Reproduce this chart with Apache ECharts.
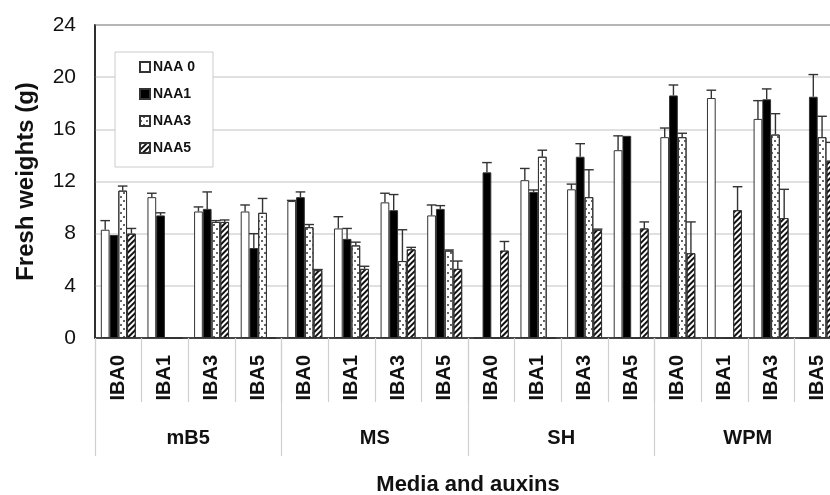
<!DOCTYPE html>
<html>
<head>
<meta charset="utf-8">
<script src="https://cdn.jsdelivr.net/npm/echarts@6/dist/echarts.min.js"></script>
<style>
html,body{margin:0;padding:0;background:#fff;}
#chart{width:830px;height:495px;}
</style>
</head>
<body>
<div id="chart"></div>
<script>
// ---- data ----
const categories = ['IBA0','IBA1','IBA3','IBA5','IBA0','IBA1','IBA3','IBA5','IBA0','IBA1','IBA3','IBA5','IBA0','IBA1','IBA3','IBA5'];
const groups = ['mB5','MS','SH','WPM'];
const seriesNames = ['NAA 0','NAA1','NAA3','NAA5'];
const yTicks = [0,4,8,12,16,20,24];

const naa0    = [8.3, 10.8, 9.7, 9.7, 10.5, 8.4, 10.4, 9.4, 0, 12.1, 11.4, 14.4, 15.4, 18.4, 16.8, 0];
const naa0Err = [0.7, 0.3, 0.35, 0.5, 0.05, 0.9, 0.7, 0.8, 0, 0.9, 0.4, 1.1, 0.7, 0.6, 1.4, 0];
const naa1    = [7.9, 9.4, 9.9, 6.9, 10.8, 7.6, 9.8, 9.9, 12.7, 11.2, 13.9, 15.5, 18.6, 0, 18.3, 18.5];
const naa1Err = [0, 0.2, 1.3, 1.1, 0.4, 0.8, 1.2, 0.25, 0.75, 0.15, 1.0, 0, 0.8, 0, 0.8, 1.7];
const naa3    = [11.3, 0, 8.9, 9.6, 8.5, 7.1, 5.9, 6.7, 0, 13.9, 10.8, 0, 15.4, 0, 15.6, 15.4];
const naa3Err = [0.35, 0, 0.1, 1.1, 0.2, 0.25, 2.4, 0.05, 0, 0.5, 2.1, 0, 0.3, 0, 1.6, 1.6];
const naa5    = [8.0, 0, 8.9, 0, 5.2, 5.3, 6.8, 5.3, 6.7, 0, 8.3, 8.4, 6.5, 9.8, 9.2, 13.6];
const naa5Err = [0.4, 0, 0.15, 0, 0.05, 0.2, 0.15, 0.6, 0.7, 0, 0.05, 0.5, 2.4, 1.8, 2.2, 1.4];

const values = [naa0, naa1, naa3, naa5];
const errors = [naa0Err, naa1Err, naa3Err, naa5Err];

// ---- styles ----
const FONT = "'Liberation Sans', Arial, sans-serif";
const BAR_GAP_RATIO = 0.25; // barCategoryGap
const N = 4;

const itemStyles = [
  { color: '#ffffff', borderColor: '#333', borderWidth: 1 },
  { color: '#000000', borderColor: '#333', borderWidth: 1 },
  { color: '#ffffff', borderColor: '#333', borderWidth: 1,
    decal: { symbol: 'rect', symbolSize: 1, color: '#666',
             dashArrayX: [[1.5, 3.5], [0, 2.5, 1.5, 1]], dashArrayY: [1.5, 1.5], rotation: 0 } },
  { color: '#ffffff', borderColor: '#333', borderWidth: 1,
    decal: { symbol: 'rect', symbolSize: 1, color: '#111',
             dashArrayX: [1, 0], dashArrayY: [2, 2], rotation: -Math.PI / 4 } }
];

function makeErrRender(idx) {
  return function (params, api) {
    const x = api.value(0);
    const lo = api.coord([x, api.value(1)]);
    const hi = api.coord([x, api.value(2)]);
    const band = api.size([1, 0])[0];
    const bw = band * (1 - BAR_GAP_RATIO) / N;
    const cx = lo[0] - band * (1 - BAR_GAP_RATIO) / 2 + (idx + 0.5) * bw;
    const cap = bw * 0.55;
    const st = { stroke: '#333', lineWidth: 1.4 };
    return {
      type: 'group',
      children: [
        { type: 'line', shape: { x1: cx, y1: lo[1], x2: cx, y2: hi[1] }, style: st },
        { type: 'line', shape: { x1: cx - cap, y1: hi[1], x2: cx + cap, y2: hi[1] }, style: st }
      ]
    };
  };
}

const series = [];
values.forEach((v, i) => {
  series.push({
    name: seriesNames[i],
    type: 'bar',
    data: v,
    barGap: '0%',
    barCategoryGap: (BAR_GAP_RATIO * 100) + '%',
    itemStyle: itemStyles[i],
    emphasis: { disabled: true },
    z: 2
  });
});
values.forEach((v, i) => {
  const d = [];
  v.forEach((val, k) => {
    if (val > 0 && errors[i][k] > 0) d.push([k, val, val + errors[i][k]]);
  });
  series.push({
    name: 'err' + i,
    type: 'custom',
    renderItem: makeErrRender(i),
    data: d,
    encode: { x: 0, y: [1, 2] },
    z: 3,
    silent: true
  });
});

const chart = echarts.init(document.getElementById('chart'), null, { renderer: 'canvas' });
chart.setOption({
  animation: false,
  backgroundColor: '#ffffff',
  textStyle: { fontFamily: FONT },
  grid: { left: 95, top: 25, width: 746, height: 313, show: true, borderColor: '#222', borderWidth: 1.5,
          containLabel: false, outerBoundsMode: 'none' },
  legend: {
    data: seriesNames,
    orient: 'vertical',
    left: 115, top: 52,
    padding: [8, 18, 12, 24],
    itemWidth: 10, itemHeight: 10, itemGap: 13,
    icon: 'rect',
    borderColor: '#cccccc', borderWidth: 1,
    backgroundColor: '#ffffff',
    textStyle: { fontFamily: FONT, fontWeight: 'bold', fontSize: 14, color: '#111', padding: [0, 0, 0, -2] }
  },
  xAxis: [
    {
      type: 'category',
      data: categories,
      position: 'bottom',
      boundaryGap: true,
      axisLine: { show: true, lineStyle: { color: '#222', width: 1.5 } },
      axisTick: { show: true, interval: 0, length: 64, lineStyle: { color: '#cfcfcf', width: 1.2 } },
      axisLabel: { interval: 0, rotate: 90, margin: 17, fontFamily: FONT, fontWeight: 'bold', fontSize: 20, color: '#111' },
      splitLine: { show: false }
    },
    {
      type: 'category',
      data: groups,
      position: 'bottom',
      offset: 0,
      boundaryGap: true,
      axisLine: { show: false },
      axisTick: { show: true, interval: 0, length: 118, lineStyle: { color: '#cfcfcf', width: 1.2 } },
      axisLabel: { interval: 0, margin: 90, fontFamily: FONT, fontWeight: 'bold', fontSize: 20, color: '#111' },
      name: 'Media and auxins',
      nameLocation: 'middle',
      nameGap: 136,
      nameTextStyle: { fontFamily: FONT, fontWeight: 'bold', fontSize: 22, color: '#111', verticalAlign: 'top' },
      splitLine: { show: false }
    }
  ],
  yAxis: {
    type: 'value',
    min: 0, max: 24, interval: 4,
    axisLine: { show: true, lineStyle: { color: '#222', width: 1.5 } },
    axisTick: { show: false },
    axisLabel: { margin: 19, fontFamily: FONT, fontSize: 21, color: '#111',
                 formatter: v => (yTicks.indexOf(v) >= 0 ? String(v) : '') },
    splitLine: { show: true, lineStyle: { color: '#d6d6d6', width: 1.5 } },
    name: 'Fresh weights (g)',
    nameLocation: 'middle',
    nameGap: 57,
    nameRotate: 90,
    nameTextStyle: { fontFamily: FONT, fontWeight: 'bold', fontSize: 24, color: '#111' }
  },
  series: series
});
</script>
</body>
</html>
